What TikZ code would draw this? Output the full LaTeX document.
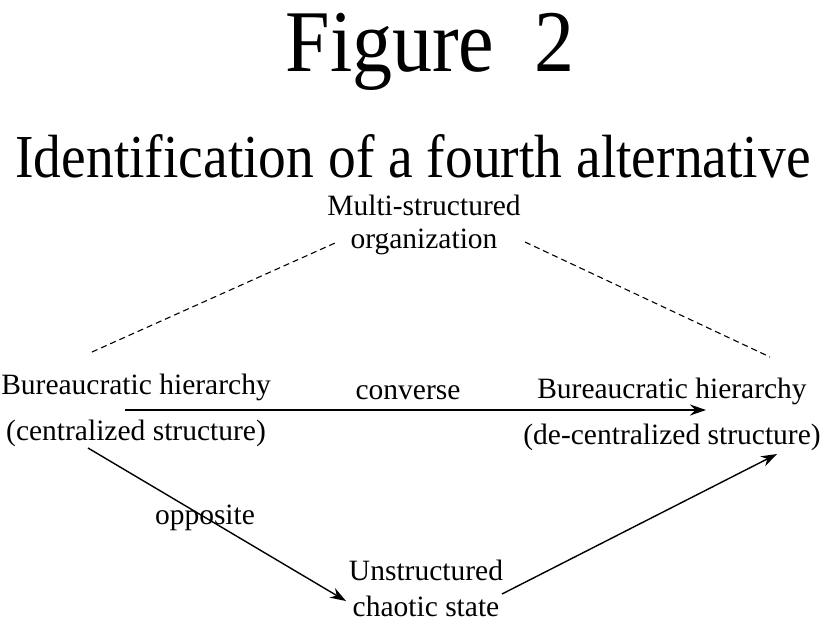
\documentclass[tikz,border=0pt]{standalone}
\usepackage{fontspec}
\setmainfont{Liberation Serif}
\usetikzlibrary{arrows.meta}
\begin{document}
\begin{tikzpicture}[x=1pt,y=-1pt,
  lbl/.style={font=\fontsize{29.5}{36}\selectfont, inner sep=0pt, align=center},
  conn/.style={line width=1.4pt, -{Stealth[length=16pt,width=11pt]}},
  dashline/.style={line width=1.1pt, dash pattern=on 6pt off 4pt}]
\useasboundingbox (0,0) rectangle (827,622);
\node[inner sep=0pt, anchor=base, font=\fontsize{80}{84}\selectfont] (title) at (430,71) {\scalebox{1}[1.1]{Figure\ \ 2}};
\node[inner sep=0pt, anchor=base, font=\fontsize{55.5}{60}\selectfont] (sub) at (413,177) {\scalebox{1}[1.1]{Identification of a fourth alternative}};
\node[lbl, font=\fontsize{29.5}{33}\selectfont] (multi) at (424,225) {Multi-structured\\organization};
\node[lbl, font=\fontsize{29.5}{46}\selectfont] (left) at (136,410) {Bureaucratic hierarchy\\(centralized structure)};
\node[lbl, font=\fontsize{29.5}{46}\selectfont] (right) at (672,414) {Bureaucratic hierarchy\\(de-centralized structure)};
\node[lbl, font=\fontsize{29.5}{36}\selectfont] (chaos) at (426,588) {Unstructured\\chaotic state};
\node[lbl] (conv) at (408,393) {converse};
\coordinate (dl1) at (92,352);
\coordinate (dl2) at (335,243);
\coordinate (dr1) at (525,242);
\coordinate (dr2) at (770,357);
\draw[dashline] (dl1) -- (dl2);
\draw[dashline] (dr1) -- (dr2);
\coordinate (a1s) at (125,410);
\coordinate (a1e) at (706,410);
\draw[conn] (a1s) -- (a1e);
\coordinate (a2s) at (88,448);
\coordinate (a2e) at (346,601);
\draw[conn] (a2s) -- (a2e);
\coordinate (a3s) at (502,594);
\coordinate (a3e) at (777,454);
\draw[conn] (a3s) -- (a3e);
\node[lbl] (opp) at (205,518) {opposite};
\end{tikzpicture}
\end{document}
